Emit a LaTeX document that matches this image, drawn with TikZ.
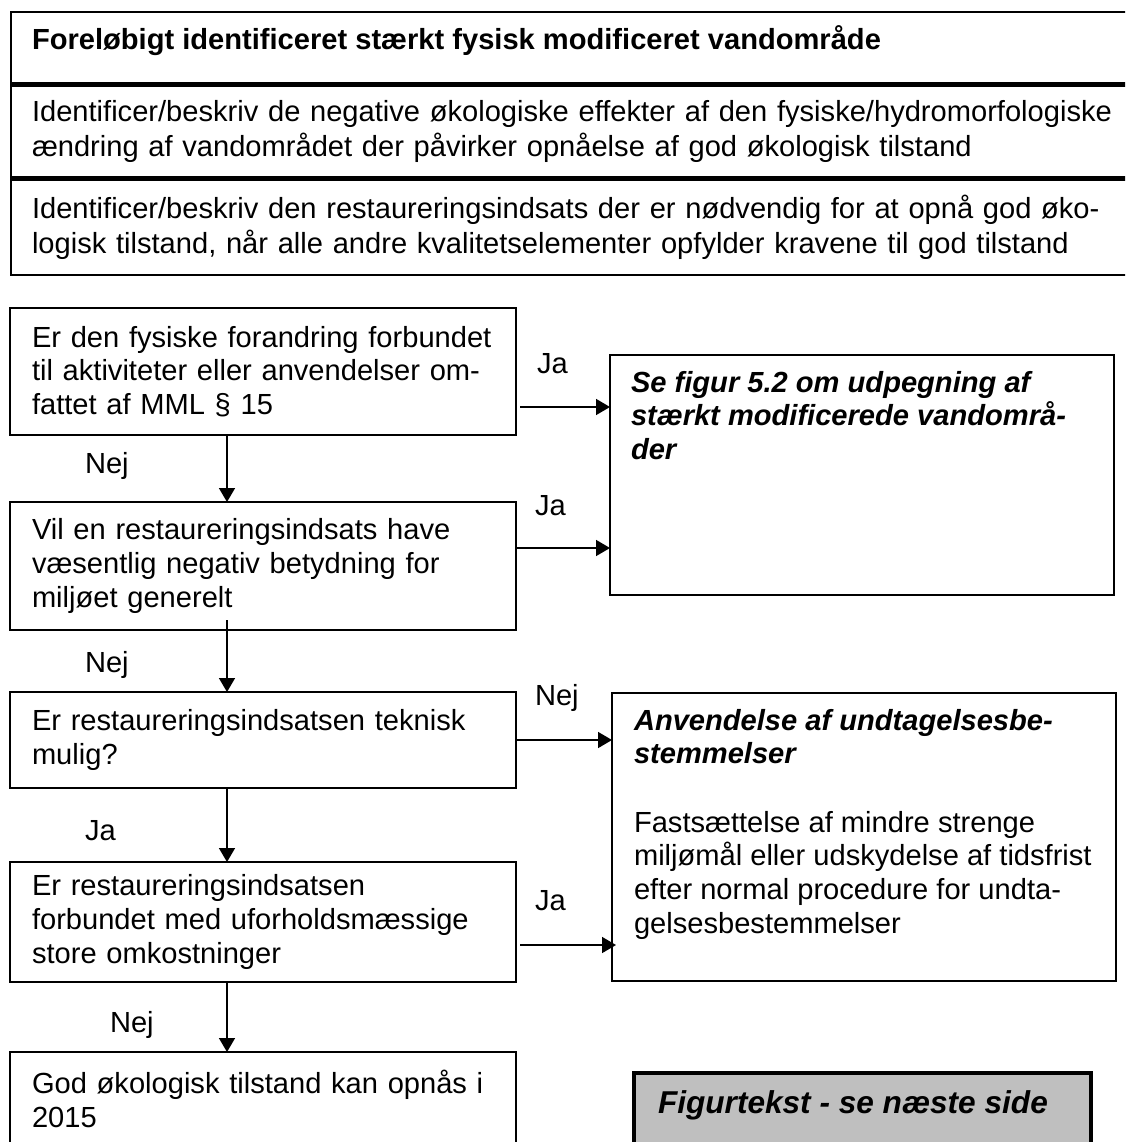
\documentclass[tikz,border=0pt]{standalone}
\usepackage{fontspec}
\setmainfont{Liberation Sans}
\usetikzlibrary{arrows.meta}
\newcommand\oneline[1]{\mbox{#1}}
\begin{document}
\begin{tikzpicture}[x=1pt,y=-1pt,
  every node/.style={inner sep=0pt, outer sep=0pt},
  txt/.style={font=\fontsize{29.1}{33.8}\selectfont},
  toptxt/.style={font=\fontsize{29.1}{35}\selectfont},
  bitxt/.style={font=\fontsize{29.1}{33.8}\selectfont\bfseries\itshape},
  box/.style={draw, line width=1.8pt, rectangle, txt, align=left, inner xsep=22pt, inner ysep=0pt,
    text width=462pt, minimum width=506pt},
  frame/.style={draw, line width=1.8pt, rectangle},
  topbox/.style={draw, line width=2.2pt, rectangle, anchor=north west},
  arr/.style={line width=1.6pt, -{Triangle[length=14pt,width=16pt]}},
  lab/.style={txt, anchor=base west},
]
\useasboundingbox (0,0) rectangle (1125,1142);
\clip (0,0) rectangle (1125,1142);

% top boxes
\node[topbox, minimum width=1200pt, minimum height=71.5pt] (t1) at (11,12) {};
\node[txt, anchor=base west] (t1txt) at (32,50) {\bfseries Foreløbigt identificeret stærkt fysisk modificeret vandområde};
\node[topbox, toptxt, align=left, text width=1100pt, inner xsep=21pt, minimum height=91pt] (t2) at (11,86)
  {\oneline{Identificer/beskriv de negative økologiske effekter af den fysiske/hydromorfologiske}\\\oneline{ændring af vandområdet der påvirker opnåelse af god økologisk tilstand}};
\node[topbox, toptxt, align=left, text width=1100pt, inner xsep=21pt, minimum height=95.5pt] (t3) at (11,179.5)
  {\oneline{Identificer/beskriv den restaureringsindsats der er nødvendig for at opnå god øko-}\\\oneline{logisk tilstand, når alle andre kvalitetselementer opfylder kravene til god tilstand}};

% left column
\node[box, minimum height=127pt] (A) at (263,371.5)
  {\oneline{Er den fysiske forandring forbundet}\\\oneline{til aktiviteter eller anvendelser om-}\\\oneline{fattet af MML § 15}};
\node[box, minimum height=128pt] (B) at (263,566)
  {\oneline{Vil en restaureringsindsats have}\\\oneline{væsentlig negativ betydning for}\\\oneline{miljøet generelt}};
\node[box, minimum height=96pt] (D) at (263,740)
  {\oneline{Er restaureringsindsatsen teknisk}\\\oneline{mulig?}};
\node[box, minimum height=120pt] (E) at (263,922)
  {\oneline{Er restaureringsindsatsen}\\\oneline{forbundet med uforholdsmæssige}\\\oneline{store omkostninger}};
\node[box, minimum height=94pt] (G) at (263,1099)
  {\oneline{God økologisk tilstand kan opnås i}\\\oneline{2015}};

% right column
\node[frame, minimum width=504pt, minimum height=240pt] (C) at (862,475) {};
\node[bitxt, anchor=north west, align=left] (Ctxt) at (631,367)
  {\rule{0pt}{25pt}Se figur 5.2 om udpegning af\\stærkt modificerede vandområ-\\der};
\node[frame, minimum width=504pt, minimum height=288pt] (F) at (864,837) {};
\node[bitxt, anchor=north west, align=left] (Fhead) at (634,705)
  {\rule{0pt}{25pt}Anvendelse af undtagelsesbe-\\stemmelser};
\node[txt, anchor=north west, align=left] (Fbody) at (634,807)
  {\rule{0pt}{25pt}Fastsættelse af mindre strenge\\miljømål eller udskydelse af tidsfrist\\efter normal procedure for undta-\\gelsesbestemmelser};
\node[draw, line width=3.5pt, fill=black!25, minimum width=457pt, minimum height=130pt, anchor=north west] (H) at (634,1073) {};
\node[font=\fontsize{31.6}{36}\selectfont\bfseries\itshape, anchor=base west] (Htxt) at (658,1113) {Figurtekst - se næste side};

% horizontal arrows
\coordinate (a1) at ([xshift=4pt,yshift=-35.5pt]A.east);
\draw[arr] (a1) -- (a1 -| C.west);
\coordinate (b1) at ([yshift=18pt]B.east);
\draw[arr] (b1) -- (b1 -| C.west);
\coordinate (d1) at (D.east);
\draw[arr] (d1) -- (d1 -| F.west);
\coordinate (e1) at ([xshift=4pt,yshift=-23pt]E.east);
\draw[arr] (e1) -- ([xshift=4pt]e1 -| F.west);

% vertical arrows
\coordinate (v1) at ([xshift=-36pt]A.south);
\draw[arr] (v1) -- (v1 |- B.north);
\coordinate (v2) at ([xshift=-36pt,yshift=10pt]B.south);
\draw[arr] (v2) -- (v2 |- D.north);
\coordinate (v3) at ([xshift=-36pt]D.south);
\draw[arr] (v3) -- (v3 |- E.north);
\coordinate (v4) at ([xshift=-36pt]E.south);
\draw[arr] (v4) -- (v4 |- G.north);

% labels
\node[lab] (ja1) at (537,373) {Ja};
\node[lab] (nej1) at (85,473) {Nej};
\node[lab] (ja2) at (535,515) {Ja};
\node[lab] (nej2) at (85,672) {Nej};
\node[lab] (nej3) at (535,705) {Nej};
\node[lab] (ja3) at (85,840) {Ja};
\node[lab] (ja4) at (535,910) {Ja};
\node[lab] (nej4) at (110,1032) {Nej};
\end{tikzpicture}
\end{document}
